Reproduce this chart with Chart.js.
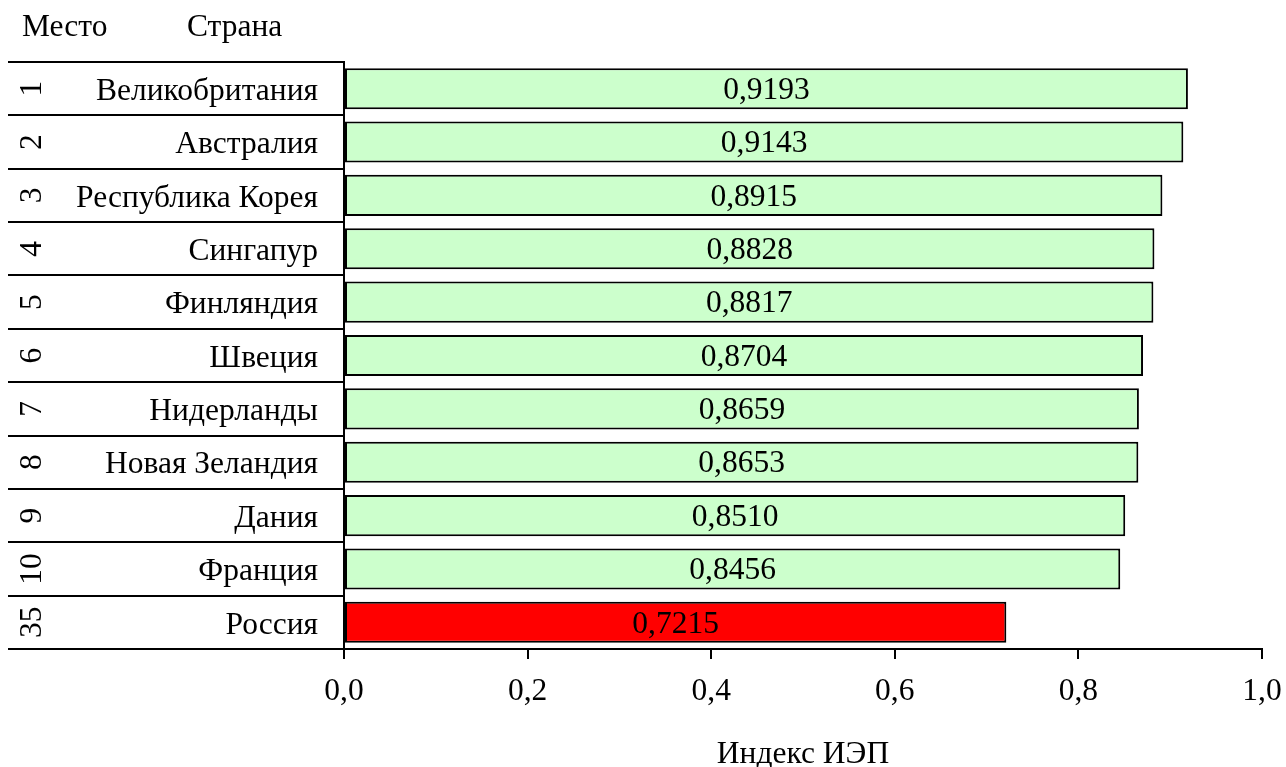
<!DOCTYPE html>
<html>
<head>
<meta charset="utf-8">
<script src="https://cdn.jsdelivr.net/npm/chart.js@4/dist/chart.umd.min.js"></script>
<style>
  body { margin: 0; background: #fff; }
</style>
</head>
<body>
<canvas id="chartIEP" width="1286" height="767"></canvas>
<script>
// Рейтинг стран по индексу ИЭП
const ranks = ['1', '2', '3', '4', '5', '6', '7', '8', '9', '10', '35'];
const countries = [
    'Великобритания', 'Австралия', 'Республика Корея', 'Сингапур', 'Финляндия',
    'Швеция', 'Нидерланды', 'Новая Зеландия', 'Дания', 'Франция', 'Россия'
];
const values = [0.9193, 0.9143, 0.8915, 0.8828, 0.8817, 0.8704, 0.8659, 0.8653, 0.8510, 0.8456, 0.7215];
const xTicks = [0, 0.2, 0.4, 0.6, 0.8, 1.0];

const FONT = "'Liberation Serif', 'Times New Roman', serif";
const FONT_SIZE = 31.5;

function fmt(v, digits){
    return v.toFixed(digits).replace('.', ',');
}

// Таблица слева: заголовки, места, разделители + подписи значений на барах
const tablePlugin = {
    id: 'tablePlugin',
    afterDatasetsDraw(chart){
        const ctx = chart.ctx;
        const area = chart.chartArea;
        const n = countries.length;
        const rowH = (area.bottom - area.top) / n;

        ctx.save();
        ctx.fillStyle = '#000';
        ctx.font = `${FONT_SIZE}px ${FONT}`;

        // заголовки
        ctx.textBaseline = 'middle';
        ctx.textAlign = 'left';
        ctx.fillText('Место', 22, 28);
        ctx.fillText('Страна', 187, 28);

        // разделители строк
        ctx.strokeStyle = '#000';
        ctx.lineWidth = 2;
        for(let i = 0; i <= n; i++){
            const y = Math.round(area.top + i * rowH);
            ctx.beginPath();
            ctx.moveTo(8, y);
            ctx.lineTo(area.left, y);
            ctx.stroke();
        }

        // места (повернутые)
        ranks.forEach((r, i) => {
            const y = chart.scales.y.getPixelForValue(i);
            ctx.save();
            ctx.translate(33, y);
            ctx.rotate(-Math.PI / 2);
            ctx.textAlign = 'center';
            ctx.textBaseline = 'middle';
            ctx.fillText(r, 0, 0);
            ctx.restore();
        });

        // значения внутри баров
        const meta = chart.getDatasetMeta(0);
        ctx.textAlign = 'center';
        ctx.textBaseline = 'middle';
        meta.data.forEach((bar, i) => {
            const p = bar.getProps(['x', 'y', 'base'], true);
            ctx.fillText(fmt(values[i], 4), (p.x + p.base) / 2, p.y + 2);
        });
        ctx.restore();
    }
};

new Chart(document.getElementById('chartIEP').getContext('2d'), {
    type: 'bar',
    data: {
        labels: countries,
        datasets: [{
            data: values,
            backgroundColor: values.map((v, i) => i === values.length - 1 ? '#ff0000' : '#ccffcc'),
            borderColor: '#000',
            borderWidth: 2,
            borderSkipped: false,
            barPercentage: 0.77,
            categoryPercentage: 1
        }]
    },
    options: {
        indexAxis: 'y',
        responsive: false,
        animation: false,
        events: [],
        layout: { padding: { left: 8, top: 62, right: 24, bottom: 0 } },
        plugins: {
            legend: { display: false },
            tooltip: { enabled: false }
        },
        scales: {
            y: {
                afterFit: s => { s.width = 336; },
                grid: { display: false },
                border: { display: true, color: '#000', width: 2 },
                ticks: {
                    color: '#000',
                    padding: 18,
                    labelOffset: 3,
                    font: { family: FONT, size: FONT_SIZE }
                }
            },
            x: {
                min: 0,
                max: 1,
                // фиксированная высота оси, подписи крайних делений могут выходить за область
                afterFit: s => {
                    s.height = 118;
                    s.paddingLeft = 0;
                    s.paddingRight = 0;
                },
                afterBuildTicks: s => { s.ticks = xTicks.map(v => ({ value: v })); },
                grid: {
                    drawOnChartArea: false,
                    tickLength: 10,
                    color: '#000',
                    lineWidth: 2
                },
                border: { color: '#000', width: 2 },
                ticks: {
                    color: '#000',
                    padding: 14,
                    maxRotation: 0,
                    font: { family: FONT, size: FONT_SIZE },
                    callback: v => fmt(v, 1)
                },
                title: {
                    display: true,
                    text: 'Индекс ИЭП',
                    color: '#000',
                    padding: { top: 0, bottom: -3 },
                    font: { family: FONT, size: FONT_SIZE, lineHeight: 1 }
                }
            }
        }
    },
    plugins: [tablePlugin]
});
</script>
</body>
</html>
